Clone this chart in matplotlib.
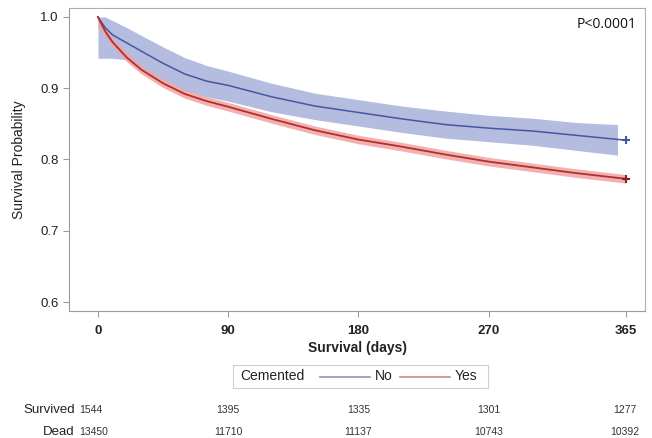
import numpy as np
import matplotlib.pyplot as plt
from matplotlib.transforms import blended_transform_factory

# Kaplan-Meier curves
days = [0, 5, 10, 20, 30, 45, 60, 75, 90, 120, 150, 180, 210, 240, 270, 300, 330, 360, 365]
surv_no = [1.0, 0.985, 0.975, 0.9635, 0.952, 0.935, 0.920, 0.910, 0.904, 0.888, 0.875,
           0.866, 0.857, 0.849, 0.844, 0.840, 0.834, 0.828, 0.827]
surv_yes = [1.0, 0.980, 0.965, 0.943, 0.926, 0.907, 0.892, 0.882, 0.874, 0.857, 0.841,
            0.828, 0.818, 0.807, 0.797, 0.789, 0.781, 0.774, 0.773]

band_days_no = [0, 5, 10, 20, 30, 45, 60, 75, 90, 120, 150, 180, 210, 240, 270, 300, 330, 359]
upper_no = [1.0, 1.0, 0.995, 0.985, 0.974, 0.958, 0.943, 0.932, 0.924, 0.907, 0.893,
            0.884, 0.875, 0.868, 0.862, 0.858, 0.852, 0.849]
lower_no = [0.942, 0.942, 0.942, 0.940, 0.928, 0.911, 0.897, 0.888, 0.882, 0.867, 0.856,
            0.847, 0.838, 0.830, 0.825, 0.820, 0.813, 0.806]

upper_yes = [1.0, 0.986, 0.971, 0.949, 0.932, 0.913, 0.898, 0.888, 0.880, 0.863, 0.847,
             0.834, 0.824, 0.813, 0.803, 0.795, 0.787, 0.780, 0.779]
lower_yes = [0.986, 0.973, 0.959, 0.937, 0.920, 0.901, 0.886, 0.876, 0.868, 0.851, 0.835,
             0.822, 0.812, 0.801, 0.791, 0.783, 0.775, 0.768, 0.767]

xticks = [0, 90, 180, 270, 365]
yticks = [0.6, 0.7, 0.8, 0.9, 1.0]
survived = ["1544", "1395", "1335", "1301", "1277"]
dead = ["13450", "11710", "11137", "10743", "10392"]

blue = '#4a55a2'
blue_band = '#b4bcdf'
red = '#b0302c'
red_band = '#f0a4a2'
grey = '#9a9a9a'

plt.rcParams['font.family'] = ['Liberation Sans', 'DejaVu Sans']

fig = plt.figure(figsize=(6.52, 4.38), dpi=100)
ax = fig.add_axes([69 / 652, 1 - 311 / 438, (645 - 69) / 652, (311 - 8) / 438])

ax.fill_between(band_days_no, lower_no, upper_no, color=blue_band, lw=0, zorder=1)
ax.fill_between(days, lower_yes, upper_yes, color=red_band, alpha=0.85, lw=0, zorder=2)
ax.plot(days, surv_no, color=blue, lw=1.1, zorder=3)
ax.plot(days, surv_yes, color=red, lw=1.3, zorder=4)
ax.plot(days[-1], surv_no[-1], marker='+', color=blue, ms=6, mew=1.5, zorder=5)
ax.plot(days[-1], surv_yes[-1], marker='+', color='#8a2020', ms=6, mew=1.5, zorder=5)

ax.set_xlim(-20, 378)
ax.set_ylim(0.5874, 1.0126)
ax.set_xticks(xticks)
ax.set_yticks(yticks)
ax.set_yticklabels(['%.1f' % v for v in yticks])
ax.tick_params(axis='both', colors=grey, labelcolor='#222222', labelsize=9.5, length=4)
ax.tick_params(axis='x', pad=6)
for lab in ax.get_xticklabels():
    lab.set_fontweight('bold')
for s in ax.spines.values():
    s.set_color('#b0b0b0')
ax.spines['left'].set_color(grey)
ax.spines['bottom'].set_color(grey)

ax.set_xlabel('Survival (days)', fontsize=10, fontweight='bold', color='#222222', labelpad=3)
ax.set_ylabel('Survival Probability', fontsize=10, color='#222222', labelpad=10)

ax.text(0.985, 0.945, 'P<0.0001', transform=ax.transAxes, ha='right', va='center',
        fontsize=10, family=['Open Sans', 'DejaVu Sans'], color='#111111')

# legend
leg_ax = fig.add_axes([233 / 652, 1 - 388 / 438, (488 - 233) / 652, 23 / 438])
leg_ax.set_xlim(0, 255)
leg_ax.set_ylim(0, 1)
leg_ax.set_xticks([])
leg_ax.set_yticks([])
for s in leg_ax.spines.values():
    s.set_color('#d0d0d0')
leg_ax.text(7, 0.5, 'Cemented', ha='left', va='center', fontsize=10, color='#222222')
leg_ax.plot([87, 137], [0.5, 0.5], color='#8f94c0', lw=1.2)
leg_ax.text(142, 0.5, 'No', ha='left', va='center', fontsize=10, color='#222222')
leg_ax.plot([167, 217], [0.5, 0.5], color='#c88a8a', lw=1.2)
leg_ax.text(222, 0.5, 'Yes', ha='left', va='center', fontsize=10, color='#222222')

# number at risk table
tr = blended_transform_factory(ax.transData, fig.transFigure)
y_surv = 1 - 410 / 438
y_dead = 1 - 432 / 438
fig.text(75 / 652, y_surv, 'Survived', ha='right', va='center', fontsize=9.5, color='#222222')
fig.text(75 / 652, y_dead, 'Dead', ha='right', va='center', fontsize=9.5, color='#222222')
for i, x in enumerate(xticks):
    ha = 'center'
    xx = x
    if i == 0:
        xx = -13
        ha = 'left'
    if i == len(xticks) - 1:
        xx = 364
    ax.text(xx, y_surv, survived[i], transform=tr, ha=ha, va='center', fontsize=7.5, color='#333333')
    ax.text(xx, y_dead, dead[i], transform=tr, ha=ha, va='center', fontsize=7.5, color='#333333')

fig.savefig('out.png', dpi=100)
